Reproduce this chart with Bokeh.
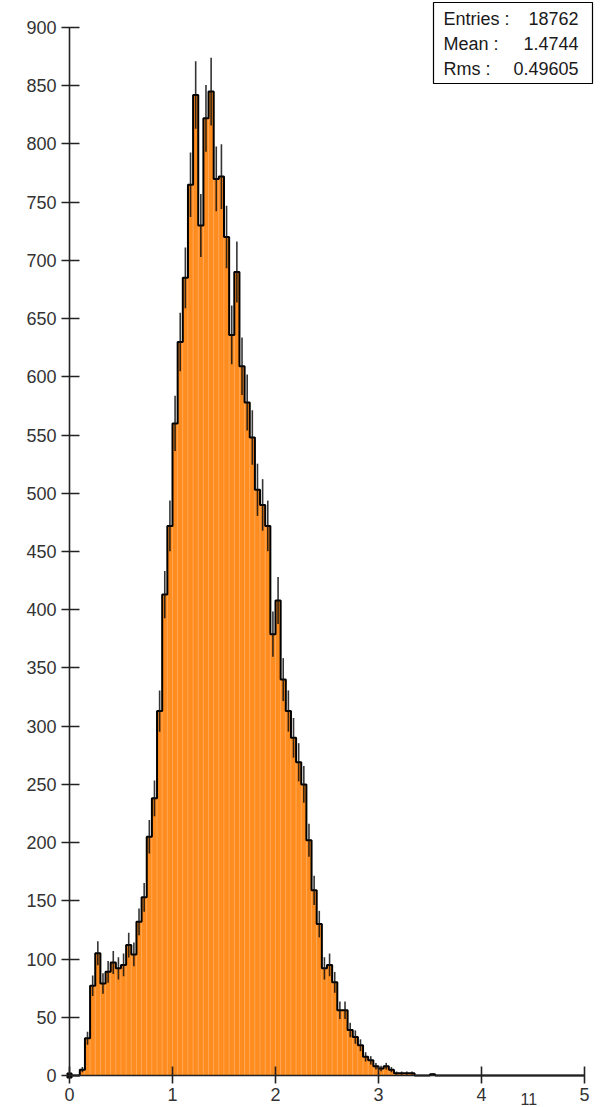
import math

from bokeh.embed import file_html
from bokeh.models import FixedTicker, Label, Range1d
from bokeh.plotting import figure
from bokeh.resources import INLINE

# ---- histogram data: 0.05-wide bins starting at 0 --------------------------
bin_width = 0.05
x_low = 0.0
n_bins = 100
counts = [
    0, 0, 5, 32, 77, 105, 79, 89, 97, 92,
    95, 112, 104, 132, 153, 205, 238, 313, 413, 472,
    560, 630, 685, 765, 842, 730, 822, 845, 770, 772,
    720, 636, 690, 609, 578, 548, 503, 490, 472, 379,
    408, 340, 313, 290, 269, 250, 202, 159, 130, 92,
    95, 80, 56, 56, 39, 33, 26, 16, 13, 8,
    6, 8, 5, 2, 2, 2, 2, 0, 0, 0,
    1,
]
counts = counts + [0] * (n_bins - len(counts))

x_ticks = [0, 1, 2, 3, 4, 5]
y_ticks = list(range(0, 901, 50))

stat_names = ["Entries :", "Mean :", "Rms :"]
stat_values = ["18762", "1.4744", "0.49605"]

# ---- page geometry (pixels) --------------------------------------------------
W, H = 606, 1107
ZERO_X = 69                    # canvas column of x = 0
ZERO_Y = 1075                  # canvas row of count 0
PX_X = 103.0                   # pixels per x unit
PX_Y = 1048.0 / 900.0          # pixels per count


def sx(px):
    """canvas x pixel -> data x"""
    return (px - ZERO_X) / PX_X


def sy(py):
    """canvas y pixel (from top) -> data y"""
    return (ZERO_Y - py) / PX_Y


ORANGE = "#ff8c1e"
TEXT = "#333333"
FONT = "Liberation Sans"

# the frame fills the whole canvas; both axes are pinned at the origin
p = figure(
    width=W, height=H,
    x_range=Range1d(sx(0), sx(W)), y_range=Range1d(sy(H), sy(0)),
    output_backend="svg", toolbar_location=None,
    min_border_left=0, min_border_right=0,
    min_border_top=0, min_border_bottom=0,
)
p.outline_line_color = None
p.grid.visible = False
p.background_fill_color = "white"
p.border_fill_color = "white"

# ---- bars ----------------------------------------------------------------------
lefts = [x_low + i * bin_width for i in range(n_bins)]
rights = [x + bin_width for x in lefts]
p.quad(left=lefts, right=rights, bottom=0, top=counts,
       fill_color=ORANGE, line_color="#ffab5e", line_width=0.7, line_alpha=0.8)

# outline of the histogram
ox, oy = [x_low], [0]
for lo, hi, c in zip(lefts, rights, counts):
    ox += [lo, hi]
    oy += [c, c]
ox.append(rights[-1])
oy.append(0)
p.line(ox, oy, line_color="black", line_width=2)

# statistical error bars
cx = [lo + bin_width / 2 for lo, c in zip(lefts, counts) if c > 0]
cy = [c for c in counts if c > 0]
p.segment(x0=cx, y0=[c - math.sqrt(c) for c in cy],
          x1=cx, y1=[c + math.sqrt(c) for c in cy],
          line_color="#111111", line_width=1.6, line_alpha=0.85)

# ---- axes ----------------------------------------------------------------------
for ax in (p.xaxis, p.yaxis):
    ax.axis_line_color = "#222222"
    ax.axis_line_width = 1.6
    ax.major_tick_line_color = "#222222"
    ax.major_tick_line_width = 1.6
    ax.minor_tick_line_color = None
    ax.major_label_text_font = FONT
    ax.major_label_text_font_size = "18px"
    ax.major_label_text_color = TEXT

p.xaxis.fixed_location = y_ticks[0]
p.xaxis.ticker = FixedTicker(ticks=x_ticks)
p.xaxis.bounds = (x_ticks[0], x_ticks[-1])
p.xaxis.major_tick_in = 9
p.xaxis.major_tick_out = 8
p.xaxis.major_label_standoff = 4

p.yaxis.fixed_location = x_ticks[0]
p.yaxis.ticker = FixedTicker(ticks=y_ticks)
p.yaxis.bounds = (y_ticks[0], y_ticks[-1])
p.yaxis.major_tick_in = 10
p.yaxis.major_tick_out = 8
p.yaxis.major_label_standoff = 5

# dot marking the origin
p.scatter(x=[x_ticks[0]], y=[y_ticks[0]], marker="square", size=5,
          fill_color="black", line_color="black")

# ---- statistics box ------------------------------------------------------------
p.quad(left=sx(433), right=sx(592), top=sy(2), bottom=sy(83),
       fill_color="white", line_color="black", line_width=1.2)
for i, (name, val) in enumerate(zip(stat_names, stat_values)):
    mid = 18 + 25 * i
    p.add_layout(Label(x=sx(443), y=sy(mid), text=name, text_align="left",
                       text_baseline="middle", text_font=FONT,
                       text_font_size="18px", text_color="#1a1a1a"))
    p.add_layout(Label(x=sx(578), y=sy(mid), text=val, text_align="right",
                       text_baseline="middle", text_font=FONT,
                       text_font_size="18px", text_color="#1a1a1a"))

# small caption at the lower right, between the last two x labels
p.add_layout(Label(x=sx(520), y=sy(1098), text="11", text_align="left",
                   text_baseline="middle", text_font=FONT,
                   text_font_size="16px", text_color=TEXT))

open("out.html", "w").write(file_html(p, INLINE))
